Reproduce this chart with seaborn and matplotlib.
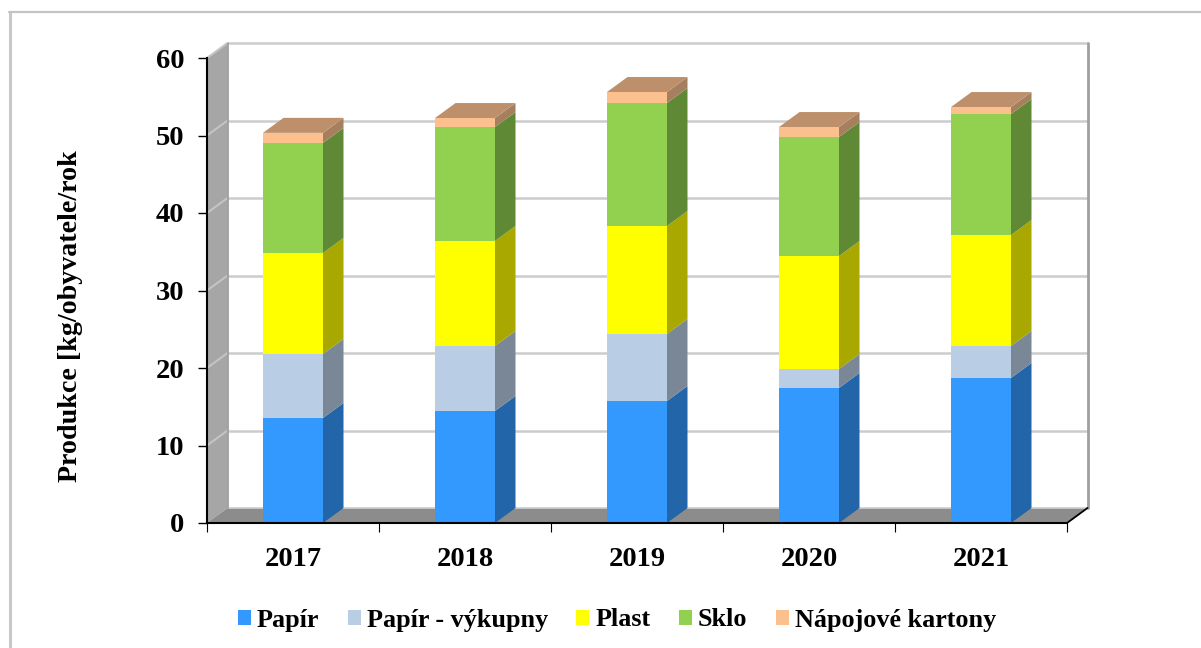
import matplotlib
matplotlib.use("Agg")
import matplotlib.pyplot as plt
from matplotlib.patches import Polygon, Rectangle
from matplotlib.lines import Line2D
from matplotlib.colors import to_rgb
import numpy as np
import pandas as pd
import seaborn as sns

years = ["2017", "2018", "2019", "2020", "2021"]
series = ["Papír", "Papír - výkupny", "Plast", "Sklo", "Nápojové kartony"]
papir = [13.55, 14.45, 15.74, 17.42, 18.71]
papir_vykup = [8.26, 8.39, 8.65, 2.45, 4.13]
plast = [13.03, 13.55, 13.93, 14.58, 14.32]
sklo = [14.2, 14.7, 15.87, 15.35, 15.61]
kartony = [1.3, 1.16, 1.42, 1.29, 0.9]
colors = ["#3399FF", "#B9CDE5", "#FFFF00", "#92D050", "#FCC08F"]
values = [papir, papir_vykup, plast, sklo, kartony]

sns.set_theme(style="white")
plt.rcParams["font.family"] = ["Liberation Serif", "DejaVu Serif"]
plt.rcParams["font.weight"] = "bold"

W, H = 1201, 648
fig = plt.figure(figsize=(W / 100, H / 100), dpi=100, facecolor="white")
L, R, T, B = 207, 1067, 58, 523
ax = fig.add_axes([L / W, 1 - B / H, (R - L) / W, (B - T) / H])
ax.set_facecolor("none")

df = pd.DataFrame(values, index=series, columns=years).T
df.index.name = "year"
bottoms = df.cumsum(axis=1).shift(1, axis=1).fillna(0)
bar_w = 60 / 172
for s, c in zip(series, colors):
    sns.barplot(data=df.reset_index(), x="year", y=s, bottom=bottoms[s].values, color=c,
                width=bar_w, saturation=1, ax=ax, zorder=5, linewidth=0, legend=False)

ax.set_xlim(-0.5, 4.5)
ax.set_ylim(0, 60)
dx = 20.5 / 172
dy = 15 / (465 / 60)

# back wall, side wall, floor, grid
x0, x1 = -0.5, 4.5
ax.add_patch(Polygon([(x0, 0), (x0 + dx, dy), (x0 + dx, 60 + dy), (x0, 60)], closed=True,
                     fc="#A6A6A6", ec="none", zorder=1, clip_on=False))
ax.add_patch(Polygon([(x0, 0), (x1, 0), (x1 + dx, dy), (x0 + dx, dy)], closed=True,
                     fc="#8C8C8C", ec="none", zorder=1, clip_on=False))
for v in range(10, 61, 10):
    ax.plot([x0 + dx, x1 + dx], [v + dy, v + dy], color="#CCCCCC", lw=1.8, zorder=2,
            clip_on=False, solid_capstyle="butt")
    ax.plot([x0, x0 + dx], [v, v + dy], color="#C4C4C4", lw=1.5, zorder=2, clip_on=False,
            solid_capstyle="butt")
ax.plot([x0 + dx, x1 + dx], [dy, dy], color="#D0D0D0", lw=1.2, zorder=2, clip_on=False)
ax.plot([x0 + dx, x0 + dx], [dy, 60 + dy], color="#989898", lw=1.2, zorder=2, clip_on=False)
ax.plot([x1 + dx, x1 + dx], [dy, 60 + dy], color="#A0A0A0", lw=2, zorder=2, clip_on=False)
ax.plot([x1, x1 + dx], [0, dy], color="black", lw=1.3, zorder=2, clip_on=False)

def darker(c, f):
    return tuple(v * f for v in to_rgb(c))

# bar depth: sides and top cap
for i in range(len(years)):
    xr = i + bar_w / 2
    xl = i - bar_w / 2
    base = 0.0
    for s, c in zip(series, colors):
        v = df.loc[years[i], s]
        ax.add_patch(Polygon([(xr, base), (xr + dx, base + dy), (xr + dx, base + v + dy), (xr, base + v)],
                             closed=True, fc=darker(c, 0.66), ec="none", zorder=4, clip_on=False))
        base += v
    ax.add_patch(Polygon([(xl, base), (xr, base), (xr + dx, base + dy), (xl + dx, base + dy)], closed=True,
                         fc=darker(colors[-1], 0.75), ec="none", zorder=4, clip_on=False))

for sp in ["top", "right"]:
    ax.spines[sp].set_visible(False)
for sp in ["left", "bottom"]:
    ax.spines[sp].set_visible(True)
    ax.spines[sp].set_color("black")
    ax.spines[sp].set_linewidth(1.5)
    ax.spines[sp].set_zorder(6)

ax.set_yticks(range(0, 61, 10))
ax.set_xticks(np.arange(-0.5, 5, 1), minor=True)
ax.set_xticks(range(5), years)
ax.tick_params(axis="x", which="major", length=0, pad=17, labelsize=20.5)
ax.tick_params(axis="x", which="minor", length=6.5, width=0.8, color="black", direction="out", bottom=True)
ax.tick_params(axis="y", which="major", length=6.5, width=1.0, color="black", left=True, pad=10, labelsize=20.5)
ax.set_xlabel("")
ax.set_ylabel("")
for t in ax.get_xticklabels() + ax.get_yticklabels():
    t.set_fontweight("bold")
    t.set_color("black")

fig.text(71 / W, 1 - 316.5 / H, "Produkce [kg/obyvatele/rok", rotation=90, ha="center", va="center",
         fontsize=20.2, fontweight="bold", color="black")

handles = [Rectangle((0, 0), 1, 1, fc=c, ec="none") for c in colors]
leg = fig.legend(handles, series, loc="center", bbox_to_anchor=(617 / W, 1 - 620 / H), ncol=5, frameon=False,
                 fontsize=18.8, handlelength=0.5, handleheight=0.5, handletextpad=0.23,
                 columnspacing=1.085, borderpad=0)
for t in leg.get_texts():
    t.set_fontweight("bold")
    t.set_color("black")

# outer frame
fig.add_artist(Line2D([10 / W, 10 / W], [0, 1 - 12 / H], color="#C8C8C8", lw=2.2, transform=fig.transFigure))
fig.add_artist(Line2D([9 / W, 1], [1 - 12 / H, 1 - 12 / H], color="#C4C4C4", lw=1.6, transform=fig.transFigure))

fig.savefig("out.png", dpi=100, facecolor="white")
